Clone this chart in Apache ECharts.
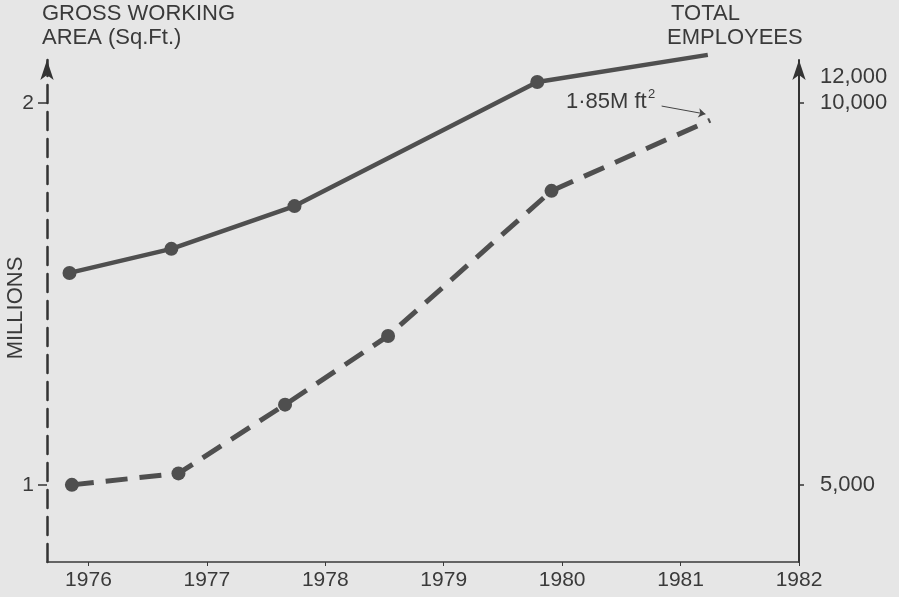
<!DOCTYPE html>
<html>
<head>
<meta charset="utf-8">
<script src="https://cdn.jsdelivr.net/npm/echarts@6/dist/echarts.min.js"></script>
<style>
html,body{margin:0;padding:0;background:#e6e6e6;}
#chart{width:899px;height:597px;}
</style>
</head>
<body>
<div id="chart"></div>
<script>
// ---- data ----
var areaYears = [1975.86, 1976.76, 1977.66, 1978.53, 1979.91, 1981.25];
var areaMillions = [1.00, 1.03, 1.21, 1.39, 1.77, 1.955];
var staffYears = [1975.84, 1976.70, 1977.74, 1979.79, 1981.23];
var staffCount = [7775, 8090, 8650, 10275, 10630];
var yearTicks = [1976, 1977, 1978, 1979, 1980, 1981, 1982];
var leftTicks = [1, 2];
var rightTickValues = [5000, 10000, 10340];
var rightTickLabels = ['5,000', '10,000', '12,000'];
var rightTickMarks = [5000, 10000];
var noteText = '1·85M ft';
var noteSup = '2';

var FONT = 'Liberation Sans, Arial, sans-serif';
var TXT = '#3a3a3a';
var INK = '#4f4f4f';

function build(xs, ys, lastNoSymbol) {
  return xs.map(function (x, i) {
    var item = { value: [x, ys[i]] };
    if (lastNoSymbol && i === xs.length - 1) item.symbol = 'none';
    return item;
  });
}

var chart = echarts.init(document.getElementById('chart'), null, { renderer: 'canvas' });
chart.setOption({
  backgroundColor: '#e6e6e6',
  animation: false,
  grid: { left: 47, right: 100, top: 60, bottom: 35, containLabel: false },
  xAxis: {
    type: 'value', min: 1975.65, max: 1982,
    splitLine: { show: false },
    axisLine: { show: true, lineStyle: { color: '#3a3a3a', width: 1.5 } },
    axisTick: { show: true, length: 4, customValues: yearTicks, lineStyle: { color: '#3a3a3a' } },
    axisLabel: { customValues: yearTicks, color: TXT, fontFamily: FONT, fontSize: 21, margin: 8,
      formatter: function (v) { return String(Math.round(v)); } }
  },
  yAxis: [{
    type: 'value', position: 'left', min: 0.798, max: 2.1126,
    splitLine: { show: false },
    axisLine: { show: true, onZero: false, symbol: ['none', 'arrow'], symbolSize: [10, 20],
      lineStyle: { color: '#333', width: 2.5, type: [18, 9] } },
    axisTick: { show: true, length: 9, customValues: leftTicks, lineStyle: { color: '#333', width: 1.5 } },
    axisLabel: { customValues: leftTicks, color: TXT, fontFamily: FONT, fontSize: 21, margin: 13 }
  }, {
    type: 'value', position: 'right', min: 3990, max: 10563,
    splitLine: { show: false },
    axisLine: { show: true, onZero: false, symbol: ['none', 'arrow'], symbolSize: [10, 20],
      lineStyle: { color: '#333', width: 2 } },
    axisTick: { show: true, length: 5, customValues: rightTickMarks, lineStyle: { color: '#333', width: 1.5 } },
    axisLabel: { customValues: rightTickValues, color: TXT, fontFamily: FONT, fontSize: 22, margin: 21,
      formatter: function (v) {
        var i = rightTickValues.indexOf(v);
        return i >= 0 ? rightTickLabels[i] : '';
      } }
  }],
  series: [{
    name: 'Employees', type: 'line', yAxisIndex: 1, clip: false,
    data: build(staffYears, staffCount, true),
    symbol: 'circle', symbolSize: 14,
    itemStyle: { color: INK },
    lineStyle: { color: INK, width: 4.5 }
  }, {
    name: 'Area', type: 'line', yAxisIndex: 0, clip: false,
    data: build(areaYears, areaMillions, true),
    symbol: 'circle', symbolSize: 14,
    itemStyle: { color: INK },
    lineStyle: { color: INK, width: 5, type: [22, 12] },
    markLine: {
      silent: true, symbol: ['none', 'arrow'], symbolSize: 7,
      label: { show: false },
      lineStyle: { color: '#444', width: 1, type: 'solid' },
      data: [[{ coord: [1980.84, 1.992] }, { coord: [1981.21, 1.971] }]]
    }
  }],
  graphic: [
    { type: 'text', left: 42, top: 3, style: { text: 'GROSS WORKING', fill: TXT, font: '22px ' + FONT } },
    { type: 'text', left: 42, top: 27, style: { text: 'AREA (Sq.Ft.)', fill: TXT, font: '22px ' + FONT } },
    { type: 'text', left: 671, top: 3, style: { text: 'TOTAL', fill: TXT, font: '22px ' + FONT } },
    { type: 'text', left: 667, top: 27, style: { text: 'EMPLOYEES', fill: TXT, font: '22px ' + FONT } },
    { type: 'text', x: 16, y: 308, rotation: Math.PI / 2,
      style: { text: 'MILLIONS', fill: TXT, font: '22px ' + FONT, textAlign: 'center', textVerticalAlign: 'middle' } },
    { type: 'text', left: 566, top: 91, style: { text: noteText, fill: TXT, font: '22px ' + FONT } },
    { type: 'text', left: 648, top: 88, style: { text: noteSup, fill: TXT, font: '13px ' + FONT } }
  ]
});
</script>
</body>
</html>
